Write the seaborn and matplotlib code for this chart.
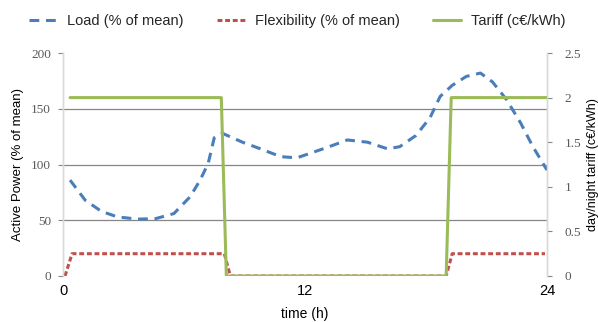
import matplotlib
matplotlib.use("Agg")
import matplotlib.pyplot as plt
import seaborn as sns
import pandas as pd
from matplotlib.lines import Line2D

# ---- data ----
load_t = [0.35, 1.1, 1.9, 2.7, 3.7, 4.6, 5.5, 6.3, 6.8, 7.2, 7.5, 7.9, 8.9, 9.8,
          10.8, 11.6, 12.25, 13.2, 14.1, 15.1, 16.1, 16.7, 17.5, 18.2, 18.7, 19.3,
          20.0, 20.7, 21.3, 22.0, 22.7, 23.3, 24.0]
load_v = [86, 68, 58, 53, 51, 51.5, 56, 71, 86, 101, 124, 128, 120, 114,
          107, 106, 110, 116, 122, 120, 114, 116, 126, 142, 161, 171,
          179, 182, 174, 158, 137, 116, 95]

flex_t = [0.1, 0.45, 8.0, 8.3, 19.0, 19.3, 23.9]
flex_v = [0, 20, 20, 0, 0, 20, 20]

tariff_t = [0.35, 7.85, 8.1, 19.0, 19.25, 24.0]
tariff_v = [2, 2, 0, 0, 2, 2]

x_ticks = [0, 12, 24]
left_ticks = [0, 50, 100, 150, 200]
right_ticks = [0, 0.5, 1, 1.5, 2, 2.5]
right_ticklabels = ["0", "0.5", "1", "1.5", "2", "2.5"]

labels = ["Load (% of mean)", "Flexibility (% of mean)", "Tariff (c\u20ac/kWh)"]
colors = ["#4a7ebb", "#c0504d", "#9bbb59"]

sns.set_theme(style="white")
plt.rcParams['font.family'] = ['Liberation Sans', 'DejaVu Sans']

fig = plt.figure(figsize=(5.98, 3.22), dpi=100)
ax = fig.add_axes([63/598, 1-276/322, (547-63)/598, (276-53)/322])
ax2 = ax.twinx()

df_load = pd.DataFrame({"t": load_t, "v": load_v})
df_flex = pd.DataFrame({"t": flex_t, "v": flex_v})
df_tar = pd.DataFrame({"t": tariff_t, "v": tariff_v})

lw = 2.2
load_dash = (3.2, 2.2)
flex_dash = (1.6, 0.9)
sns.lineplot(data=df_load, x="t", y="v", ax=ax, color=colors[0], lw=lw,
             legend=False, zorder=3)
ax.lines[-1].set_dashes(load_dash)
sns.lineplot(data=df_flex, x="t", y="v", ax=ax, color=colors[1], lw=lw,
             legend=False, zorder=3)
ax.lines[-1].set_dashes(flex_dash)
sns.lineplot(data=df_tar, x="t", y="v", ax=ax2, color=colors[2], lw=lw,
             legend=False, zorder=3)

ax.set_xlim(0, 24)
ax.set_ylim(0, 200)
ax2.set_ylim(0, 2.5)
ax.set_xticks(x_ticks)
ax.set_xticklabels([str(v) for v in x_ticks], fontsize=10.5, color="#000000")
ax.set_yticks(left_ticks)
ax.set_yticklabels([str(v) for v in left_ticks], fontsize=9.5, color="#595959",
                   family="Liberation Serif")
ax2.set_yticks(right_ticks)
ax2.set_yticklabels(right_ticklabels, fontsize=9.5, color="#595959",
                    family="Liberation Serif")

for v in [50, 100, 150]:
    ax.axhline(v, color="#868686", lw=0.9, zorder=1)

for a in (ax, ax2):
    for s in ["top", "bottom"]:
        a.spines[s].set_visible(False)
    a.spines["left"].set_color("#d9d9d9")
    a.spines["right"].set_color("#d9d9d9")
    a.spines["left"].set_linewidth(1.0)
    a.spines["right"].set_linewidth(1.0)
    a.grid(False)
    a.set_facecolor("none")

ax.tick_params(axis="y", left=True, length=3.6, width=0.8, color="#868686", pad=5)
ax.tick_params(axis="x", bottom=False, length=0, pad=6)
ax2.tick_params(axis="y", right=True, length=3.6, width=0.8, color="#868686", pad=9)

ax.set_xlabel("time (h)", fontsize=10, color="#000000", labelpad=6)
ax.set_ylabel("Active Power (% of mean)", fontsize=9.5, color="#000000", labelpad=5)
ax2.set_ylabel("day/night tariff (c\u20ac/kWh)", fontsize=9, color="#000000",
               labelpad=4.5)

h1 = Line2D([], [], color=colors[0], lw=lw, dashes=load_dash)
h2 = Line2D([], [], color=colors[1], lw=lw, dashes=flex_dash)
h3 = Line2D([], [], color=colors[2], lw=lw)
fig.legend([h1, h2, h3], labels, loc="center", bbox_to_anchor=(0.497, 0.935),
           ncol=3, frameon=False, fontsize=10.5, handlelength=1.9,
           handletextpad=0.7, columnspacing=2.3)

fig.savefig("out.png", dpi=100)
